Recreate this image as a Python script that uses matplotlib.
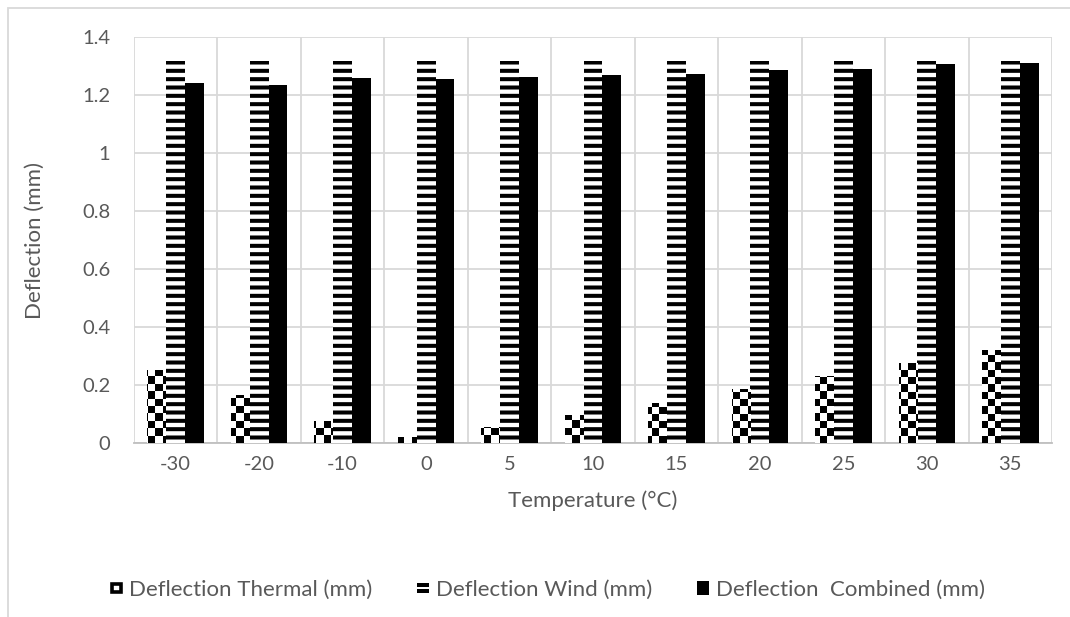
import numpy as np
import matplotlib
matplotlib.use("Agg")
import matplotlib.pyplot as plt
from matplotlib.patches import Rectangle
from matplotlib.legend_handler import HandlerBase

# Deflection of the member at each ambient temperature
temperatures = ["-30", "-20", "-10", "0", "5", "10", "15", "20", "25", "30", "35"]
deflection_thermal = [0.252, 0.166, 0.076, 0.022, 0.056, 0.097, 0.138, 0.186, 0.232, 0.275, 0.320]
deflection_wind = [1.318, 1.318, 1.318, 1.318, 1.318, 1.318, 1.318, 1.318, 1.318, 1.318, 1.318]
deflection_combined = [1.243, 1.237, 1.259, 1.257, 1.264, 1.269, 1.275, 1.287, 1.292, 1.307, 1.311]

series_labels = ["Deflection Thermal (mm)", "Deflection Wind (mm)", "Deflection  Combined (mm)"]
y_ticks = [0, 0.2, 0.4, 0.6, 0.8, 1.0, 1.2, 1.4]
y_tick_labels = ["0", "0.2", "0.4", "0.6", "0.8", "1", "1.2", "1.4"]

TEXT = "#595959"
GRID = "#d9d9d9"
plt.rcParams["font.family"] = ["Lato", "DejaVu Sans"]
plt.rcParams["hatch.linewidth"] = 2.9

W, H = 1070, 617
fig = plt.figure(figsize=(W / 100, H / 100), dpi=100)
ax = fig.add_axes([134 / W, 1 - 443 / H, (1052 - 134) / W, (443 - 37.3) / H])

# chart frame
fig.patches.append(Rectangle((8 / W, -0.2), 2.0, 1.2 - 8 / H, transform=fig.transFigure,
                             fill=False, edgecolor=GRID, linewidth=1.3, zorder=-5))

x = np.arange(len(temperatures))
bw = 0.226

thermal_bars = ax.bar(x - bw, deflection_thermal, bw, color="white", linewidth=0, zorder=3)
ax.bar(x, deflection_wind, bw, color="white", edgecolor="black", linewidth=0,
       hatch="--", zorder=3)
ax.bar(x + bw, deflection_combined, bw, color="black", linewidth=0, zorder=3)

# checkerboard fill for the thermal bars
cell = 7.3
ax_w_px = 1052 - 134
ax_h_px = 443 - 37.3
ncols = int(np.ceil(ax_w_px / cell))
nrows = int(np.ceil(ax_h_px / cell))
checker = (np.add.outer(np.arange(nrows), np.arange(ncols)) % 2).astype(float)
ext_r = ncols * cell / ax_w_px
ext_t = nrows * cell / ax_h_px
for bar in thermal_bars:
    im = ax.imshow(checker, cmap="gray", vmin=0, vmax=1, interpolation="nearest",
                   extent=(0, ext_r, 0, ext_t), origin="lower",
                   transform=ax.transAxes, aspect="auto", zorder=4)
    im.set_clip_path(bar)

ax.set_xlim(-0.5, len(temperatures) - 0.5)
ax.set_ylim(0, 1.4)

# gridlines: horizontal at value ticks, vertical at category boundaries
ax.set_yticks(y_ticks)
ax.set_yticklabels(y_tick_labels)
ax.set_xticks(x)
ax.set_xticklabels(temperatures)
ax.set_xticks(np.arange(len(temperatures) + 1) - 0.5, minor=True)
ax.grid(axis="y", which="major", color=GRID, linewidth=1.3, zorder=0)
ax.grid(axis="x", which="minor", color=GRID, linewidth=1.3, zorder=0)
ax.set_axisbelow(True)
ax.tick_params(axis="both", which="both", length=0, labelsize=14.5, labelcolor=TEXT)
ax.tick_params(axis="y", pad=17)
ax.tick_params(axis="x", pad=9)
for side in ["top", "right", "left"]:
    ax.spines[side].set_visible(False)
ax.spines["bottom"].set_color("#bfbfbf")
ax.spines["bottom"].set_linewidth(1.3)

ax.set_xlabel("Temperature (°C)", fontsize=16, color=TEXT)
ax.set_ylabel("Deflection (mm)", fontsize=16, color=TEXT)
ax.xaxis.set_label_coords(0.5, -0.118)
ax.yaxis.set_label_coords(-0.097, 0.5)


class RingHandler(HandlerBase):
    def create_artists(self, legend, orig_handle, xdescent, ydescent, width, height,
                       fontsize, trans):
        s = min(width, height)
        x0 = -xdescent + (width - s) / 2
        y0 = -ydescent + (height - s) / 2
        r = Rectangle((x0 + 1.3, y0 + 1.3), s - 2.6, s - 2.6, facecolor="white",
                      edgecolor="black", linewidth=2.6, transform=trans)
        return [r]


class StripeHandler(HandlerBase):
    def create_artists(self, legend, orig_handle, xdescent, ydescent, width, height,
                       fontsize, trans):
        y0 = -ydescent
        a = Rectangle((-xdescent, y0 + height * 0.12), width, height * 0.28,
                      facecolor="black", linewidth=0, transform=trans)
        b = Rectangle((-xdescent, y0 + height * 0.58), width, height * 0.28,
                      facecolor="black", linewidth=0, transform=trans)
        return [a, b]


class SquareHandler(HandlerBase):
    def create_artists(self, legend, orig_handle, xdescent, ydescent, width, height,
                       fontsize, trans):
        return [Rectangle((-xdescent, -ydescent), width, height, facecolor="black",
                          linewidth=0, transform=trans)]


h_thermal = Rectangle((0, 0), 1, 1)
h_wind = Rectangle((0, 0), 1, 1)
h_comb = Rectangle((0, 0), 1, 1)
leg = fig.legend([h_thermal, h_wind, h_comb], series_labels, loc="center",
                 bbox_to_anchor=(547.5 / W, 1 - 590 / H), ncol=3, frameon=False,
                 fontsize=16, labelcolor=TEXT, handlelength=0.55, handleheight=0.55,
                 handletextpad=0.3, columnspacing=2.0,
                 handler_map={h_thermal: RingHandler(), h_wind: StripeHandler(),
                              h_comb: SquareHandler()})

fig.savefig("out.png", dpi=100)
